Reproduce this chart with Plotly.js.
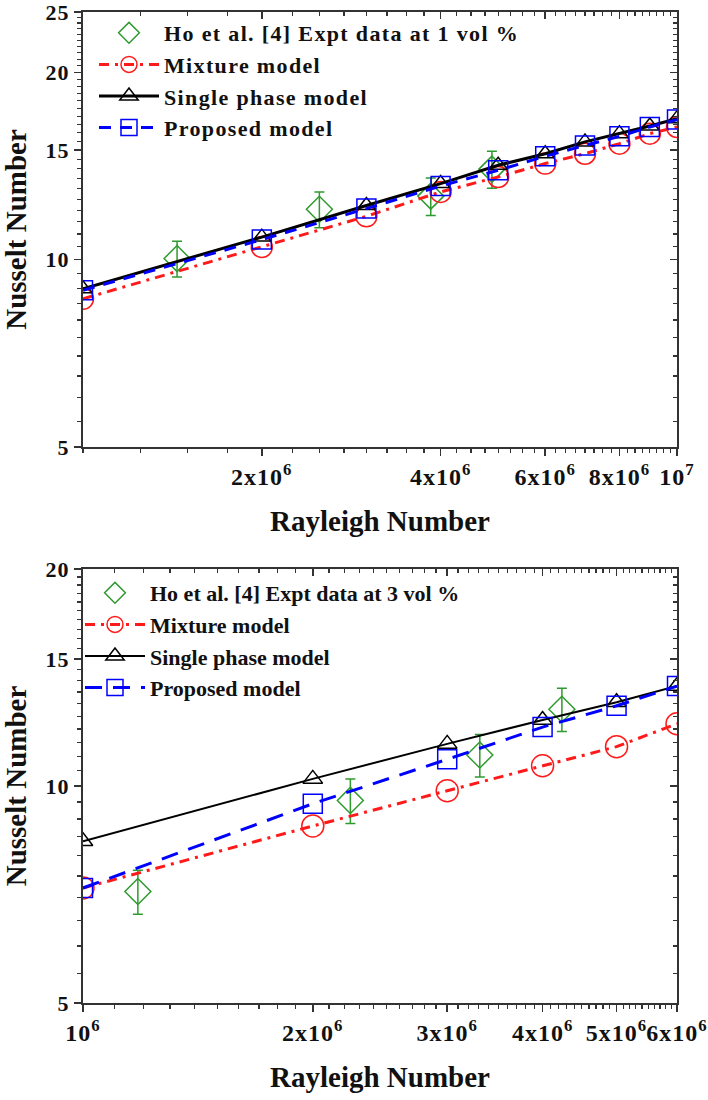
<!DOCTYPE html>
<html><head><meta charset="utf-8">
<script src="https://cdn.plot.ly/plotly-3.0.1.min.js"></script>
<style>
body{margin:0;background:#fff}
#chart{width:708px;height:1100px}
.legendtext{letter-spacing:1.35px}
.xtick text, .x2tick text{letter-spacing:1px}
.ytick text, .y2tick text{letter-spacing:1px}
</style></head><body><div id="chart"></div><script>
// ---- Top panel: 1 vol % ----
const raTop = [1e6, 2e6, 3e6, 4e6, 5e6, 6e6, 7e6, 8e6, 9e6, 1e7];
const mixtureTop = [8.65, 10.48, 11.74, 12.85, 13.58, 14.27, 14.8, 15.36, 15.94, 16.34];
const singleTop = [8.98, 10.87, 12.22, 13.25, 14.18, 14.8, 15.46, 15.94, 16.4, 16.85];
const proposedTop = [8.93, 10.77, 12.08, 13.13, 13.92, 14.66, 15.26, 15.78, 16.34, 16.79];
const exptRaTop = [1.44e6, 2.5e6, 3.85e6, 4.88e6];
const exptNuTop = [10.04, 12.05, 12.65, 13.98];
const exptErrTop = [0.66, 0.8, 0.88, 0.96];
const xTickValsTop = [2e6, 4e6, 6e6, 8e6, 1e7];
const xTickTextTop = ['2x10<sup>6</sup>', '4x10<sup>6</sup>', '6x10<sup>6</sup>', '8x10<sup>6</sup>', '10<sup>7</sup>'];
const yTickValsTop = [5, 10, 15, 20, 25];

// ---- Bottom panel: 3 vol % ----
const raBot = [1e6, 2e6, 3e6, 4e6, 5e6, 6e6];
const mixtureBot = [7.22, 8.8, 9.85, 10.67, 11.34, 12.2];
const singleBot = [8.38, 10.23, 11.44, 12.35, 13.07, 13.76];
const proposedBot = [7.22, 9.45, 10.89, 12.07, 12.92, 13.76];
const exptRaBot = [1.18e6, 2.24e6, 3.31e6, 4.24e6];
const exptNuBot = [7.14, 9.55, 11.04, 12.78];
const exptErrBot = [0.5, 0.68, 0.75, 0.88];
const xTickValsBot = [1e6, 2e6, 3e6, 4e6, 5e6, 6e6];
const xTickTextBot = ['10<sup>6</sup>', '2x10<sup>6</sup>', '3x10<sup>6</sup>', '4x10<sup>6</sup>', '5x10<sup>6</sup>', '6x10<sup>6</sup>'];
const yTickValsBot = [5, 10, 15, 20];

const FONT = '"Liberation Serif", "Times New Roman", serif';
const GREEN = '#2f9a2f', RED = '#ff1a1a', BLUE = '#0000ff', BLACK = '#000000';
const AX = '#333333';

function series(x, y, name, color, dash, symbol, size, width, xa, ya, leg) {
  return {x: x, y: y, name: name, type: 'scatter', mode: 'lines+markers',
    xaxis: xa, yaxis: ya, legend: leg,
    line: {color: color, dash: dash, width: width},
    marker: {symbol: symbol, size: size, color: color, line: {color: color, width: 1.5}}};
}
function expt(x, y, e, name, xa, ya, leg) {
  return {x: x, y: y, name: name, type: 'scatter', mode: 'markers',
    xaxis: xa, yaxis: ya, legend: leg,
    marker: {symbol: 'diamond-open', size: 20, color: GREEN, line: {color: GREEN, width: 1.5}},
    error_y: {type: 'data', array: e, visible: true, color: GREEN, thickness: 1.5, width: 5}};
}

const traces = [
  expt(exptRaTop, exptNuTop, exptErrTop, 'Ho et al. [4] Expt data at 1 vol %', 'x', 'y', 'legend'),
  series(raTop, mixtureTop, 'Mixture model', RED, '10px,6px,3px,6px', 'circle-open', 21, 3, 'x', 'y', 'legend'),
  series(raTop, singleTop, 'Single phase model', BLACK, 'solid', 'triangle-up-open', 16, 3, 'x', 'y', 'legend'),
  series(raTop, proposedTop, 'Proposed model', BLUE, '12px,9px', 'square-open', 19, 3, 'x', 'y', 'legend'),
  expt(exptRaBot, exptNuBot, exptErrBot, 'Ho et al. [4] Expt data at 3 vol %', 'x2', 'y2', 'legend2'),
  series(raBot, mixtureBot, 'Mixture model', RED, '10px,6px,3px,6px', 'circle-open', 22, 3, 'x2', 'y2', 'legend2'),
  series(raBot, singleBot, 'Single phase model', BLACK, 'solid', 'triangle-up-open', 17, 2, 'x2', 'y2', 'legend2'),
  series(raBot, proposedBot, 'Proposed model', BLUE, '17px,11px', 'square-open', 19, 3, 'x2', 'y2', 'legend2'),
  {x: [], y: [], xaxis: 'x3', yaxis: 'y3', showlegend: false, type: 'scatter'},
  {x: [], y: [], xaxis: 'x4', yaxis: 'y4', showlegend: false, type: 'scatter'}
];

const xTickFont = {family: FONT, size: 24, color: '#111', weight: 'bold'};
const yTickFont = {family: FONT, size: 22, color: '#111', weight: 'bold'};
const titleFont = {family: FONT, size: 29, color: '#111', weight: 'bold'};

function xAxis(range, vals, text, minorDtick, anchor) {
  return {type: 'log', range: range, domain: [83/708, 677/708], anchor: anchor,
    tickmode: 'array', tickvals: vals, ticktext: text, tickfont: xTickFont, ticklabeloverflow: 'allow',
    ticks: 'outside', ticklen: 7, tickwidth: 1.5, tickcolor: AX,
    minor: {ticks: 'outside', ticklen: 4, tickwidth: 1.2, tickcolor: AX, dtick: minorDtick, showgrid: false},
    showline: true, mirror: true, linewidth: 2, linecolor: AX, showgrid: false, zeroline: false,
    title: {text: 'Rayleigh Number', font: titleFont, standoff: 22}};
}
function yAxis(range, vals, domain, anchor) {
  return {type: 'log', range: range, domain: domain, anchor: anchor,
    tickmode: 'array', tickvals: vals, ticktext: vals.map(String), tickfont: yTickFont, ticklabeloverflow: 'allow',
    ticks: 'outside', ticklen: 7, tickwidth: 1.5, tickcolor: AX,
    minor: {ticks: 'outside', ticklen: 4, tickwidth: 1.2, tickcolor: AX, dtick: 'L0.5', showgrid: false},
    showline: true, mirror: true, linewidth: 2, linecolor: AX, showgrid: false, zeroline: false,
    title: {text: 'Nusselt Number', font: titleFont, standoff: 14}};
}
function xMirror(over, anchor, range, vals, minorDtick) {
  return {type: 'log', range: range, overlaying: over, anchor: anchor, side: 'top',
    tickmode: 'array', tickvals: vals, showticklabels: false,
    ticks: 'inside', ticklen: 7, tickwidth: 1.5, tickcolor: AX,
    minor: {ticks: 'inside', ticklen: 4, tickwidth: 1.2, tickcolor: AX, dtick: minorDtick, showgrid: false},
    showline: false, showgrid: false, zeroline: false};
}
function yMirror(over, anchor, range, vals) {
  return {type: 'log', range: range, overlaying: over, anchor: anchor, side: 'right',
    tickmode: 'array', tickvals: vals, showticklabels: false,
    ticks: 'inside', ticklen: 7, tickwidth: 1.5, tickcolor: AX,
    minor: {ticks: 'inside', ticklen: 4, tickwidth: 1.2, tickcolor: AX, dtick: 'L0.5', showgrid: false},
    showline: false, showgrid: false, zeroline: false};
}

const rxTop = [6, 7], ryTop = [Math.log10(5), Math.log10(25)];
const rxBot = [6, Math.log10(6e6)], ryBot = [Math.log10(5), Math.log10(20)];
const domTop = [1 - 447/1100, 1 - 12/1100];
const domBot = [1 - 1003/1100, 1 - 569/1100];

const legendFont = {family: FONT, size: 22, color: '#111', weight: 'bold'};
const layout = {
  width: 708, height: 1100, paper_bgcolor: '#fff', plot_bgcolor: '#fff',
  margin: {l: 0, r: 0, t: 0, b: 0},
  showlegend: true,
  xaxis: xAxis(rxTop, xTickValsTop, xTickTextTop, 'L250000', 'y'),
  yaxis: yAxis(ryTop, yTickValsTop, domTop, 'x'),
  xaxis2: xAxis(rxBot, xTickValsBot, xTickTextBot, 'L100000', 'y2'),
  yaxis2: yAxis(ryBot, yTickValsBot, domBot, 'x2'),
  xaxis3: xMirror('x', 'y', rxTop, xTickValsTop, 'L250000'),
  yaxis3: yMirror('y', 'x', ryTop, yTickValsTop),
  xaxis4: xMirror('x2', 'y2', rxBot, xTickValsBot, 'L100000'),
  yaxis4: yMirror('y2', 'x2', ryBot, yTickValsBot),
  legend: {x: 94/708, y: 1 - 12/1100, xanchor: 'left', yanchor: 'top', bgcolor: 'rgba(0,0,0,0)',
    font: legendFont, itemwidth: 60, borderwidth: 0, tracegroupgap: 0},
  legend2: {x: 80/708, y: 1 - 572/1100, xanchor: 'left', yanchor: 'top', bgcolor: 'rgba(0,0,0,0)',
    font: legendFont, itemwidth: 60, borderwidth: 0, tracegroupgap: 0}
};

Plotly.newPlot('chart', traces, layout, {displayModeBar: false, staticPlot: true});
</script></body></html>
